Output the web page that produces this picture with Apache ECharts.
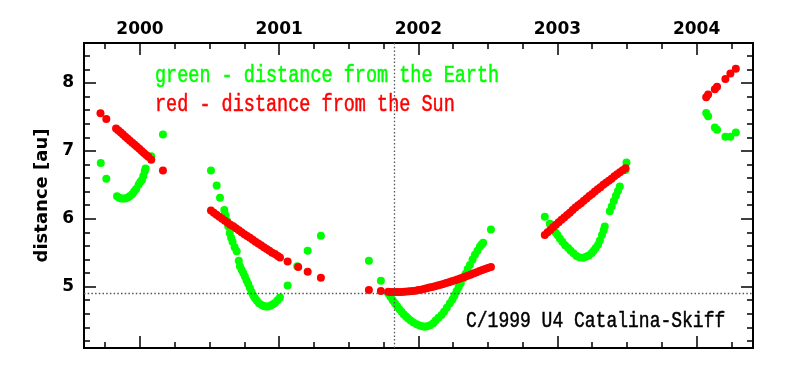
<!DOCTYPE html>
<html>
<head>
<meta charset="utf-8">
<script src="https://cdn.jsdelivr.net/npm/echarts@6/dist/echarts.min.js"></script>
<style>
html,body{margin:0;padding:0;background:#fff;}
#c{width:793px;height:378px;}
</style>
</head>
<body>
<div id="c"></div>
<script>
// ---- data: [decimal year, distance in au] ----
const earth2000 = [
  [1999.718,6.82],[1999.758,6.59],
  [1999.835,6.33],[1999.850,6.31],[1999.865,6.30],[1999.880,6.30],[1999.894,6.30],[1999.910,6.31],
  [1999.925,6.33],[1999.943,6.36],[1999.958,6.40],[1999.972,6.44],[1999.990,6.50],[2000.002,6.54],
  [2000.014,6.57],[2000.024,6.63],[2000.034,6.70],[2000.040,6.74],
  [2000.081,6.92],[2000.165,7.24]
];
const sun2000 = [
  [1999.716,7.555],[1999.758,7.47],
  [1999.828,7.33],[1999.845,7.30],[1999.862,7.27],[1999.878,7.24],[1999.895,7.21],[1999.912,7.18],
  [1999.928,7.15],[1999.945,7.12],[1999.962,7.09],[1999.978,7.06],[1999.995,7.03],[2000.012,7.00],
  [2000.028,6.97],[2000.045,6.94],[2000.060,6.915],[2000.081,6.87],
  [2000.165,6.71]
];
const earth2001 = [
  [2000.510,6.71],[2000.551,6.49],[2000.575,6.31],
  [2000.606,6.13],[2000.615,6.05],[2000.625,5.97],[2000.634,5.89],[2000.645,5.79],[2000.655,5.72],
  [2000.665,5.66],[2000.680,5.58],[2000.695,5.52],[2000.710,5.38],[2000.718,5.30],[2000.730,5.25],
  [2000.742,5.20],[2000.754,5.15],[2000.766,5.09],[2000.778,5.04],[2000.790,4.98],[2000.802,4.92],
  [2000.814,4.87],[2000.826,4.83],[2000.840,4.79],[2000.855,4.755],[2000.874,4.73],[2000.890,4.715],
  [2000.906,4.705],[2000.922,4.705],[2000.940,4.72],[2000.955,4.74],[2000.970,4.76],[2000.988,4.80],
  [2001.006,4.84],
  [2001.061,5.015],[2001.130,5.30],[2001.205,5.53],[2001.300,5.75]
];
const sun2001 = [
  [2000.510,6.12],[2000.530,6.09],[2000.550,6.06],[2000.570,6.03],[2000.590,6.00],[2000.610,5.97],
  [2000.630,5.94],[2000.650,5.91],[2000.670,5.89],[2000.690,5.86],[2000.710,5.83],[2000.730,5.80],
  [2000.750,5.77],[2000.770,5.745],[2000.790,5.72],[2000.810,5.69],[2000.830,5.66],[2000.850,5.635],
  [2000.870,5.61],[2000.890,5.58],[2000.910,5.555],[2000.930,5.53],[2000.950,5.50],[2000.970,5.48],
  [2000.990,5.45],[2001.006,5.43],
  [2001.061,5.37],[2001.137,5.29],[2001.205,5.22],[2001.300,5.13]
];
const earth2002 = [
  [2001.645,5.38],[2001.731,5.085],
  [2001.784,4.90],[2001.800,4.85],[2001.816,4.80],[2001.832,4.755],[2001.848,4.71],[2001.864,4.665],
  [2001.880,4.63],[2001.896,4.59],[2001.912,4.56],[2001.927,4.53],[2001.945,4.50],[2001.965,4.47],
  [2001.988,4.445],[2002.010,4.425],[2002.030,4.415],[2002.047,4.41],[2002.065,4.415],[2002.085,4.43],
  [2002.107,4.46],[2002.125,4.50],[2002.145,4.54],[2002.167,4.58],[2002.185,4.63],[2002.205,4.69],
  [2002.227,4.755],[2002.245,4.81],[2002.260,4.87],[2002.275,4.93],[2002.290,4.99],[2002.305,5.05],
  [2002.323,5.12],[2002.340,5.19],[2002.355,5.26],[2002.371,5.32],[2002.390,5.40],[2002.407,5.47],
  [2002.425,5.53],[2002.443,5.59],[2002.455,5.62],[2002.466,5.645],
  [2002.522,5.84]
];
const sun2002 = [
  [2001.645,4.95],[2001.731,4.935],
  [2001.784,4.925],[2001.800,4.92],[2001.820,4.92],[2001.840,4.92],[2001.860,4.92],[2001.880,4.922],
  [2001.900,4.925],[2001.920,4.928],[2001.940,4.93],[2001.960,4.935],[2001.980,4.94],[2002.000,4.948],
  [2002.020,4.955],[2002.040,4.965],[2002.060,4.975],[2002.080,4.985],[2002.100,4.995],[2002.120,5.005],
  [2002.140,5.015],[2002.160,5.028],[2002.180,5.04],[2002.200,5.052],[2002.220,5.065],[2002.240,5.078],
  [2002.260,5.09],[2002.280,5.105],[2002.300,5.12],[2002.320,5.135],[2002.340,5.15],[2002.360,5.165],
  [2002.380,5.18],[2002.400,5.195],[2002.420,5.21],[2002.440,5.228],[2002.460,5.245],[2002.480,5.26],
  [2002.500,5.275],[2002.522,5.29]
];
const earth2003 = [
  [2002.909,6.03],[2002.945,5.925],
  [2002.969,5.84],[2002.985,5.80],[2003.000,5.76],[2003.017,5.71],[2003.035,5.66],[2003.055,5.61],
  [2003.077,5.57],[2003.095,5.53],[2003.115,5.49],[2003.137,5.45],[2003.160,5.43],[2003.185,5.425],
  [2003.205,5.44],[2003.225,5.46],[2003.245,5.49],[2003.260,5.53],[2003.275,5.57],[2003.292,5.615],
  [2003.305,5.68],[2003.320,5.76],[2003.332,5.83],[2003.340,5.885],
  [2003.376,6.11],[2003.390,6.18],[2003.405,6.26],[2003.420,6.34],[2003.435,6.41],[2003.448,6.475],
  [2003.489,6.72],[2003.496,6.83]
];
const sun2003 = [
  [2002.909,5.76],[2002.929,5.80],[2002.949,5.835],[2002.969,5.875],[2002.989,5.91],[2003.009,5.95],
  [2003.029,5.985],[2003.049,6.02],[2003.069,6.055],[2003.089,6.09],[2003.109,6.13],[2003.129,6.165],
  [2003.149,6.20],[2003.169,6.23],[2003.189,6.265],[2003.209,6.30],[2003.229,6.335],[2003.249,6.365],
  [2003.269,6.40],[2003.289,6.435],[2003.309,6.465],[2003.329,6.50],[2003.349,6.53],[2003.369,6.56],
  [2003.389,6.59],[2003.409,6.625],[2003.429,6.655],[2003.449,6.685],[2003.469,6.715],[2003.489,6.745]
];
const earth2004 = [
  [2004.069,7.56],[2004.083,7.51],[2004.131,7.345],[2004.147,7.31],[2004.207,7.21],[2004.243,7.21],[2004.282,7.27]
];
const sun2004 = [
  [2004.069,7.79],[2004.083,7.83],[2004.131,7.91],[2004.147,7.945],[2004.207,8.06],[2004.243,8.14],[2004.282,8.21]
];
const perihelionDate = 2001.8275;   // vertical dotted line
const perihelionDist = 4.90;        // horizontal dotted line
const xRange = [1999.5976, 2004.4053];
const yRange = [4.095, 8.59];
const legendLines = ['green - distance from the Earth', 'red - distance from the Sun'];
const cometName = 'C/1999 U4 Catalina-Skiff';

const earth = [].concat(earth2000, earth2001, earth2002, earth2003, earth2004);
const sun = [].concat(sun2000, sun2001, sun2002, sun2003, sun2004);

const chart = echarts.init(document.getElementById('c'), null, {renderer: 'canvas'});
const tickStyle = {color: '#000', width: 1.5};
const labelFont = {color: '#000', fontFamily: 'DejaVu Sans', fontWeight: 'bold', fontSize: 17};
const monoFont = '18.5px "Liberation Mono"';
const monoFontSmall = '18px "Liberation Mono"';

function xAxisDef(pos, showLabel) {
  return {
    type: 'value', position: pos, min: xRange[0], max: xRange[1],
    axisLine: {show: false},
    axisTick: {show: true, inside: true, length: 12, lineStyle: tickStyle},
    minorTick: {show: true, splitNumber: 4, length: 6, lineStyle: tickStyle},
    splitLine: {show: false}, minorSplitLine: {show: false},
    axisLabel: Object.assign({show: showLabel, margin: 5, showMinLabel: false, showMaxLabel: false,
      formatter: v => String(Math.round(v))}, labelFont)
  };
}
function yAxisDef(pos, showLabel) {
  const a = {
    type: 'value', position: pos, min: yRange[0], max: yRange[1],
    axisLine: {show: false},
    axisTick: {show: true, inside: true, length: 12, lineStyle: tickStyle},
    minorTick: {show: true, splitNumber: 5, length: 6, lineStyle: tickStyle},
    splitLine: {show: false}, minorSplitLine: {show: false},
    axisLabel: Object.assign({show: showLabel, margin: 10, showMinLabel: false, showMaxLabel: false,
      formatter: v => String(Math.round(v))}, labelFont)
  };
  if (showLabel) {
    a.name = 'distance [au]';
    a.nameLocation = 'middle';
    a.nameGap = 31;
    a.nameTextStyle = {color: '#000', fontFamily: 'DejaVu Sans', fontWeight: 'bold', fontSize: 18};
  }
  return a;
}

const option = {
  animation: false,
  backgroundColor: '#fff',
  grid: {left: 84, right: 40, top: 43, bottom: 30, show: true, borderColor: '#000', borderWidth: 2, backgroundColor: 'transparent'},
  xAxis: [xAxisDef('top', true), xAxisDef('bottom', false)],
  yAxis: [yAxisDef('left', true), yAxisDef('right', false)],
  series: [
    {
      name: 'distance from the Earth', type: 'scatter', data: earth,
      xAxisIndex: 0, yAxisIndex: 0,
      symbol: 'circle', symbolSize: 8,
      itemStyle: {color: '#00ff00', opacity: 1},
      markLine: {
        silent: true, symbol: 'none', label: {show: false},
        lineStyle: {color: '#555', width: 1.3, type: [1.5, 2.2]},
        data: [{xAxis: perihelionDate}, {yAxis: perihelionDist}]
      }
    },
    {
      name: 'distance from the Sun', type: 'scatter', data: sun,
      xAxisIndex: 0, yAxisIndex: 0,
      symbol: 'circle', symbolSize: 8,
      itemStyle: {color: '#ff0000', opacity: 1}
    }
  ],
  graphic: [
    {type: 'text', x: 155, y: 76, scaleY: 1.25, silent: true,
      style: {text: legendLines[0], font: monoFont, fill: '#00ff00', stroke: '#00ff00', lineWidth: 0.4, verticalAlign: 'middle', align: 'left'}},
    {type: 'text', x: 155, y: 105, scaleY: 1.25, silent: true,
      style: {text: legendLines[1], font: monoFont, fill: '#ff0000', stroke: '#ff0000', lineWidth: 0.4, verticalAlign: 'middle', align: 'left'}},
    {type: 'text', x: 466, y: 321, scaleY: 1.25, silent: true,
      style: {text: cometName, font: monoFontSmall, fill: '#000', stroke: '#000', lineWidth: 0.4, verticalAlign: 'middle', align: 'left'}}
  ]
};
chart.setOption(option);
</script>
</body>
</html>
